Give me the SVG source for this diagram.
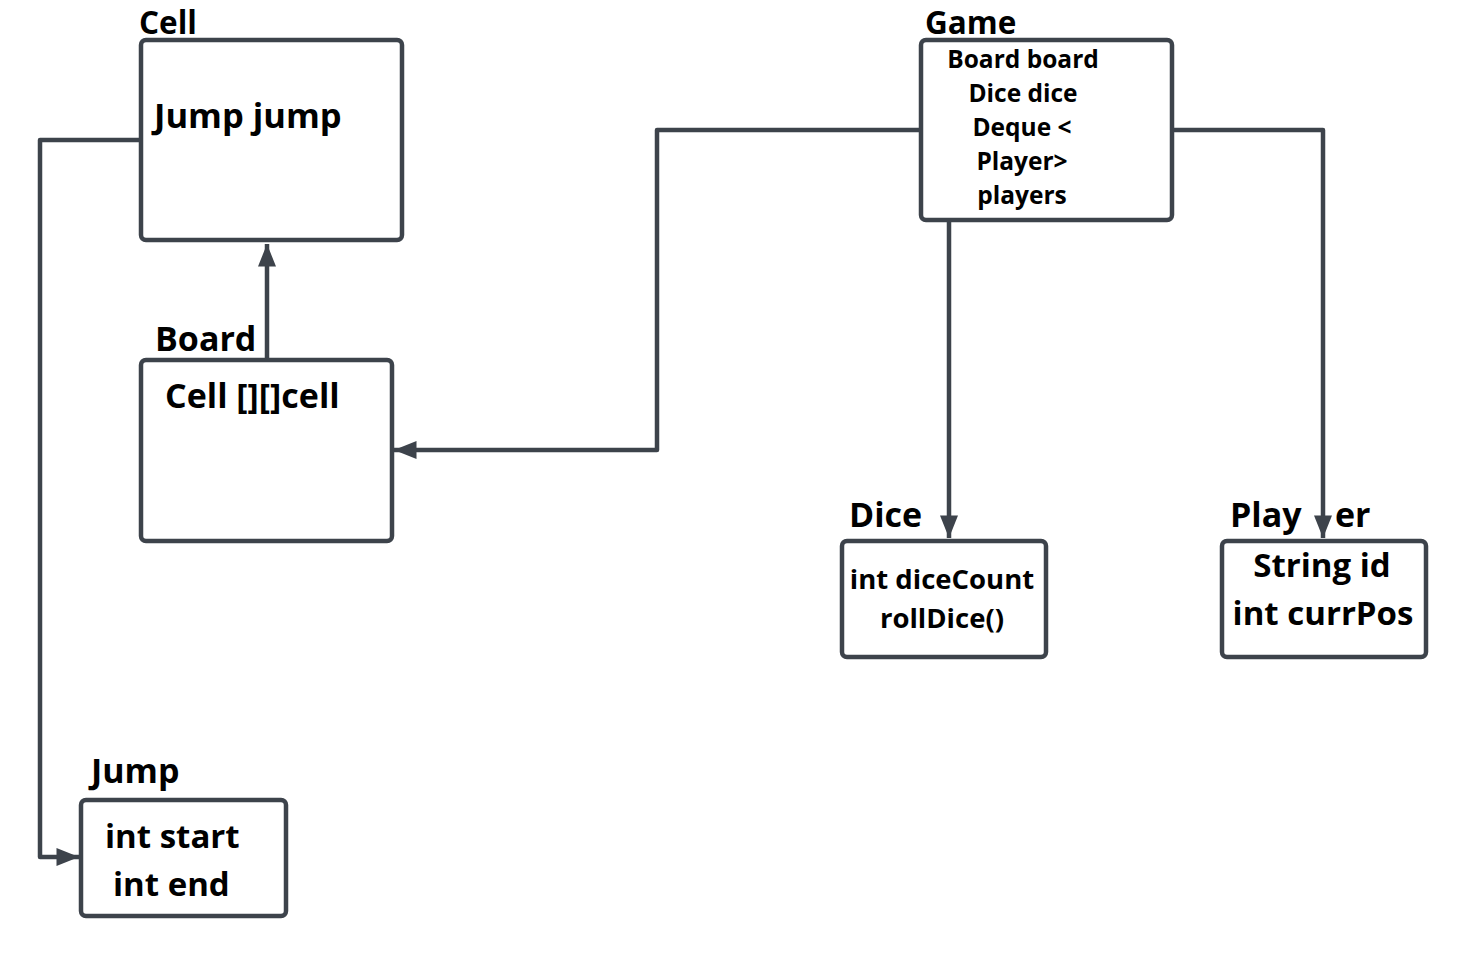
<svg xmlns="http://www.w3.org/2000/svg" width="1466" height="957" viewBox="0 0 1466 957">
<style>
.box{fill:#fff;stroke:#3d434b;stroke-width:4.5}
.ln{fill:none;stroke:#3d434b;stroke-width:4.5;stroke-linejoin:round}
text{font-family:"Open Sans","Noto Sans",sans-serif;font-weight:bold;fill:#000}
.t{font-size:34px}
.top{font-size:31.5px}
.g{font-size:24.5px;text-anchor:middle}
.c{text-anchor:middle}
</style>
<defs>
<marker id="ah" viewBox="0 0 10 8" refX="10" refY="4" markerWidth="6" markerHeight="4" orient="auto" markerUnits="strokeWidth">
<path d="M0,0 L10,4 L0,8 z" fill="#3d434b"/>
</marker>
</defs>
<rect width="1466" height="957" fill="#fff"/>
<g id="connectors">
<path class="ln" d="M267,360 V244" marker-end="url(#ah)"/>
<path class="ln" d="M921,130 H657 V450 H394" marker-end="url(#ah)"/>
<path class="ln" d="M1172,130 H1323 V538" marker-end="url(#ah)"/>
<path class="ln" d="M949,220 V538" marker-end="url(#ah)"/>
<path class="ln" d="M141,140 H40 V857 H79" marker-end="url(#ah)"/>
</g>
<g id="cell">
<rect class="box" x="141" y="40" width="261" height="200" rx="5"/>
<text class="top" x="139" y="34">Cell</text>
<text x="154" y="128" font-size="34.5">Jump jump</text>
</g>
<g id="board">
<rect class="box" x="141" y="360" width="251" height="181" rx="5"/>
<text class="t" x="155" y="351">Board</text>
<text x="165" y="408" font-size="34">Cell [][]cell</text>
</g>
<g id="game">
<rect class="box" x="921" y="40" width="251" height="180" rx="5"/>
<text class="top" x="925" y="34">Game</text>
<text class="g" x="1023" y="68">Board board</text>
<text class="g" x="1023" y="102">Dice dice</text>
<text class="g" x="1022" y="136">Deque &lt;</text>
<text class="g" x="1022" y="170">Player&gt;</text>
<text class="g" x="1022" y="204">players</text>
</g>
<g id="dice">
<rect class="box" x="842" y="541" width="204" height="116" rx="5"/>
<text class="t" x="849" y="527">Dice</text>
<text class="c" x="942" y="589" font-size="27.5">int diceCount</text>
<text class="c" x="942" y="628" font-size="27.5">rollDice()</text>
</g>
<g id="player">
<rect class="box" x="1222" y="541" width="204" height="116" rx="5"/>
<text class="t" x="1230" y="527">Play</text>
<text class="t" x="1335" y="527">er</text>
<text class="c" x="1322" y="577" font-size="33">String id</text>
<text class="c" x="1323" y="625" font-size="33">int currPos</text>
</g>
<g id="jump">
<rect class="box" x="81" y="800" width="205" height="116" rx="5"/>
<text class="t" x="91" y="783">Jump</text>
<text x="105" y="848" font-size="33">int start</text>
<text x="113" y="896" font-size="33">int end</text>
</g>
</svg>
